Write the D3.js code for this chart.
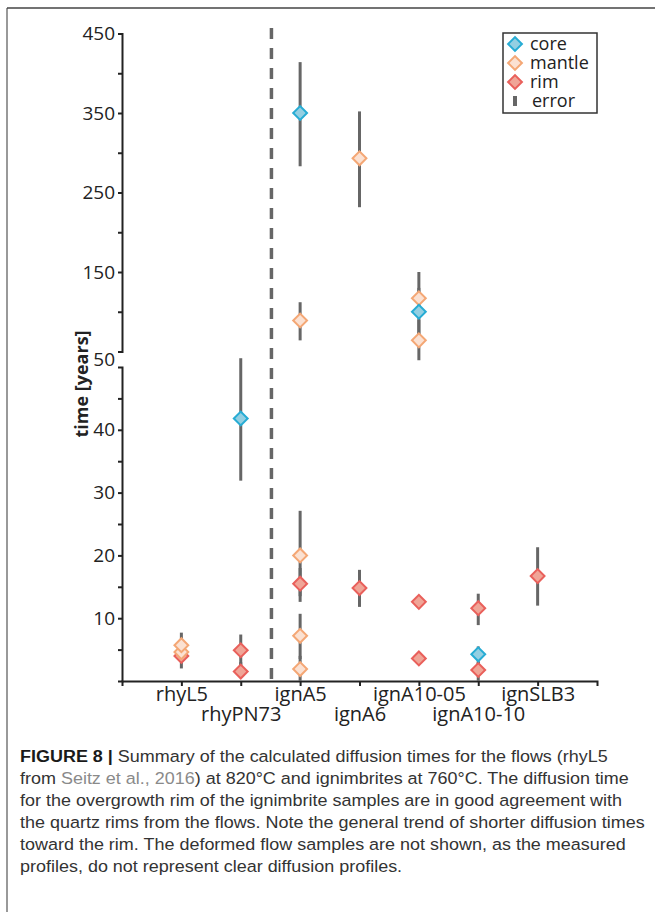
<!DOCTYPE html>
<html>
<head>
<meta charset="utf-8">
<script src="https://cdn.jsdelivr.net/npm/d3@7"></script>
<style>
    body { margin: 0; background: #fff; }
    svg text { font-family: 'Open Sans', sans-serif; fill: #222; }
    .axis path, .axis line { stroke: #222; stroke-width: 2; }
    .axis text { font-size: 19px; }
    .caption text { font-family: 'Liberation Sans', Arial, sans-serif; font-size: 17px; fill: #333; }
</style>
</head>
<body>
<div id="vis"></div>
<script>

// samples along the x axis
let categories = ['rhyL5', 'rhyPN73', 'ignA5', 'ignA6', 'ignA10-05', 'ignA10-10', 'ignSLB3'];

// one entry per diamond
let pointSample = ['rhyL5', 'rhyL5', 'rhyL5',
    'rhyPN73', 'rhyPN73', 'rhyPN73',
    'ignA5', 'ignA5', 'ignA5', 'ignA5', 'ignA5', 'ignA5',
    'ignA6', 'ignA6',
    'ignA10-05', 'ignA10-05', 'ignA10-05', 'ignA10-05', 'ignA10-05',
    'ignA10-10', 'ignA10-10', 'ignA10-10',
    'ignSLB3'];
let pointType = ['rim', 'mantle', 'mantle',
    'core', 'rim', 'rim',
    'core', 'mantle', 'mantle', 'rim', 'mantle', 'mantle',
    'mantle', 'rim',
    'mantle', 'core', 'mantle', 'rim', 'rim',
    'rim', 'core', 'rim',
    'rim'];
let pointValue = [4.0, 4.6, 5.7,
    41.8, 4.9, 1.5,
    350, 89, 20, 15.5, 7.2, 1.9,
    293, 14.8,
    117, 100, 64, 12.6, 3.6,
    11.6, 4.25, 1.75,
    16.7];
let errorLow = [2.0, null, null,
    31.9, 2.5, 0.6,
    283, 64, 13.5, 12.6, 3.5, 0,
    231.5, 11.8,
    95, 70, 39, null, null,
    8.9, 0.8, 0,
    12.0];
let errorHigh = [7.7, null, null,
    51.4, 7.4, 3.0,
    414, 112, 27.1, 18, 10.7, 4,
    352, 17.7,
    150, 130, 90, null, null,
    13.9, 5.5, 3.0,
    21.3];

// axis ticks (upper and lower part of the broken axis)
let upperTicks = [50, 100, 150, 200, 250, 300, 350, 400, 450];
let upperLabels = [150, 250, 350, 450];
let lowerTicks = [5, 10, 15, 20, 25, 30, 35, 40, 45];
let lowerLabels = [10, 20, 30, 40];

let legendItems = ['core', 'mantle', 'rim', 'error'];

let captionLines = [
    [['FIGURE 8 | ', 'bold'], ['Summary of the calculated diffusion times for the flows (rhyL5', '']],
    [['from ', ''], ['Seitz et al., 2016', 'link'], [') at 820°C and ignimbrites at 760°C. The diffusion time', '']],
    [['for the overgrowth rim of the ignimbrite samples are in good agreement with', '']],
    [['the quartz rims from the flows. Note the general trend of shorter diffusion times', '']],
    [['toward the rim. The deformed flow samples are not shown, as the measured', '']],
    [['profiles, do not represent clear diffusion profiles.', '']]
];

let colors = {
    core: {stroke: '#27acd4', fill: '#93cfe2'},
    mantle: {stroke: '#f4a775', fill: '#fbe1d2'},
    rim: {stroke: '#e9605b', fill: '#f0a597'}
};
let drawOrder = {rim: 0, mantle: 1, core: 2};

let points = pointValue.map((v, i) => ({
    sample: pointSample[i],
    type: pointType[i],
    value: v,
    low: errorLow[i],
    high: errorHigh[i],
    upper: v > 55
}));

let width = 655,
    height = 912;

let svg = d3.select('#vis')
    .append('svg')
    .attr('width', width)
    .attr('height', height);

// frame
svg.append('path')
    .attr('d', 'M7,912V8')
    .attr('stroke', '#777')
    .attr('stroke-width', 1.5);
svg.append('path')
    .attr('d', 'M7,8H655')
    .attr('stroke', '#444')
    .attr('stroke-width', 1.5);

// Scaling
let xScale = d3.scaleLinear()
    .domain([0, categories.length + 1])
    .range([122, 597]);

let yUpper = d3.scaleLinear()
    .domain([50, 450])
    .range([351.5, 33.5]);

let yLower = d3.scaleLinear()
    .domain([0, 50])
    .range([681, 367]);

let yOf = d => d.upper ? yUpper : yLower;

// Axis
svg.append('g')
    .attr('class', 'axis')
    .attr('transform', 'translate(122,0)')
    .call(d3.axisLeft(yUpper)
        .tickValues(upperTicks)
        .tickSize(4)
        .tickSizeOuter(4)
        .tickFormat(d => upperLabels.includes(d) ? d : ''));

svg.append('g')
    .attr('class', 'axis')
    .attr('transform', 'translate(122,0)')
    .call(d3.axisLeft(yLower)
        .tickValues(lowerTicks)
        .tickSize(4)
        .tickSizeOuter(4)
        .tickFormat(d => lowerLabels.includes(d) ? d : ''));

// shared "50" label sits between the two parts
svg.append('text')
    .attr('x', 115)
    .attr('y', (yUpper(50) + yLower(50)) / 2)
    .attr('dy', '0.35em')
    .attr('text-anchor', 'end')
    .style('font-size', '19px')
    .text('50');

let xAxis = svg.append('g')
    .attr('class', 'axis')
    .attr('transform', 'translate(0,' + yLower(0) + ')')
    .call(d3.axisBottom(xScale)
        .tickValues(categories.map((c, i) => i + 1))
        .tickSize(5)
        .tickSizeOuter(5)
        .tickFormat(d => categories[d - 1]));

xAxis.selectAll('text')
    .style('font-size', '20px')
    .attr('y', (d, i) => i % 2 === 0 ? 6 : 26);

svg.append('text')
    .attr('transform', 'translate(88,384) rotate(-90)')
    .attr('text-anchor', 'middle')
    .style('font-size', '18px')
    .style('font-weight', 'bold')
    .text('time [years]');

// dashed divider between flows and ignimbrites
svg.append('line')
    .attr('x1', xScale(2.5) + 1)
    .attr('x2', xScale(2.5) + 1)
    .attr('y1', 28)
    .attr('y2', yLower(0))
    .attr('stroke', '#666')
    .attr('stroke-width', 3.5)
    .attr('stroke-dasharray', '11,9');

// error bars
svg.selectAll('line.error')
    .data(points.filter(d => d.low !== null))
    .enter()
    .append('line')
    .attr('class', 'error')
    .attr('x1', d => xScale(categories.indexOf(d.sample) + 1))
    .attr('x2', d => xScale(categories.indexOf(d.sample) + 1))
    .attr('y1', d => yOf(d)(d.low))
    .attr('y2', d => yOf(d)(d.high))
    .attr('stroke', '#666')
    .attr('stroke-width', 3);

let diamond = d3.symbol().type(d3.symbolSquare).size(96);

svg.selectAll('path.point')
    .data(points.slice().sort((a, b) => drawOrder[a.type] - drawOrder[b.type]))
    .enter()
    .append('path')
    .attr('class', 'point')
    .attr('d', diamond)
    .attr('transform', d => 'translate(' + xScale(categories.indexOf(d.sample) + 1) + ',' + yOf(d)(d.value) + ') rotate(45)')
    .attr('fill', d => colors[d.type].fill)
    .attr('stroke', d => colors[d.type].stroke)
    .attr('stroke-width', 2);

// Legend
let legend = svg.append('g');

legend.append('rect')
    .attr('x', 503)
    .attr('y', 33)
    .attr('width', 94)
    .attr('height', 80)
    .attr('fill', 'none')
    .attr('stroke', '#333')
    .attr('stroke-width', 1.5);

let legendRow = legend.selectAll('g.row')
    .data(legendItems)
    .enter()
    .append('g')
    .attr('class', 'row')
    .attr('transform', (d, i) => 'translate(515,' + (44 + i * 19) + ')');

legendRow.filter(d => d !== 'error')
    .append('path')
    .attr('d', diamond)
    .attr('transform', 'rotate(45)')
    .attr('fill', d => colors[d].fill)
    .attr('stroke', d => colors[d].stroke)
    .attr('stroke-width', 2);

legendRow.filter(d => d === 'error')
    .append('rect')
    .attr('x', -2)
    .attr('y', -5)
    .attr('width', 4)
    .attr('height', 10)
    .attr('fill', '#666');

legendRow.append('text')
    .attr('x', d => d === 'error' ? 17 : 15)
    .attr('dy', '0.33em')
    .style('font-size', '18px')
    .text(d => d);

// Caption
let caption = svg.append('g')
    .attr('class', 'caption');

let lines = caption.selectAll('text')
    .data(captionLines)
    .enter()
    .append('text')
    .attr('x', 0)
    .attr('y', 0);

lines.selectAll('tspan')
    .data(d => d)
    .enter()
    .append('tspan')
    .style('font-weight', d => d[1] === 'bold' ? 'bold' : null)
    .style('fill', d => d[1] === 'bold' ? '#1a1a1a' : d[1] === 'link' ? '#8a8a8a' : null)
    .text(d => d[0]);

let widest = lines.filter((d, i) => i === 3).node().getComputedTextLength();
let squeeze = 625 / widest;

lines.attr('transform', (d, i) => 'translate(20,' + (762 + i * 22) + ') scale(' + squeeze + ',1)');

</script>
</body>
</html>
